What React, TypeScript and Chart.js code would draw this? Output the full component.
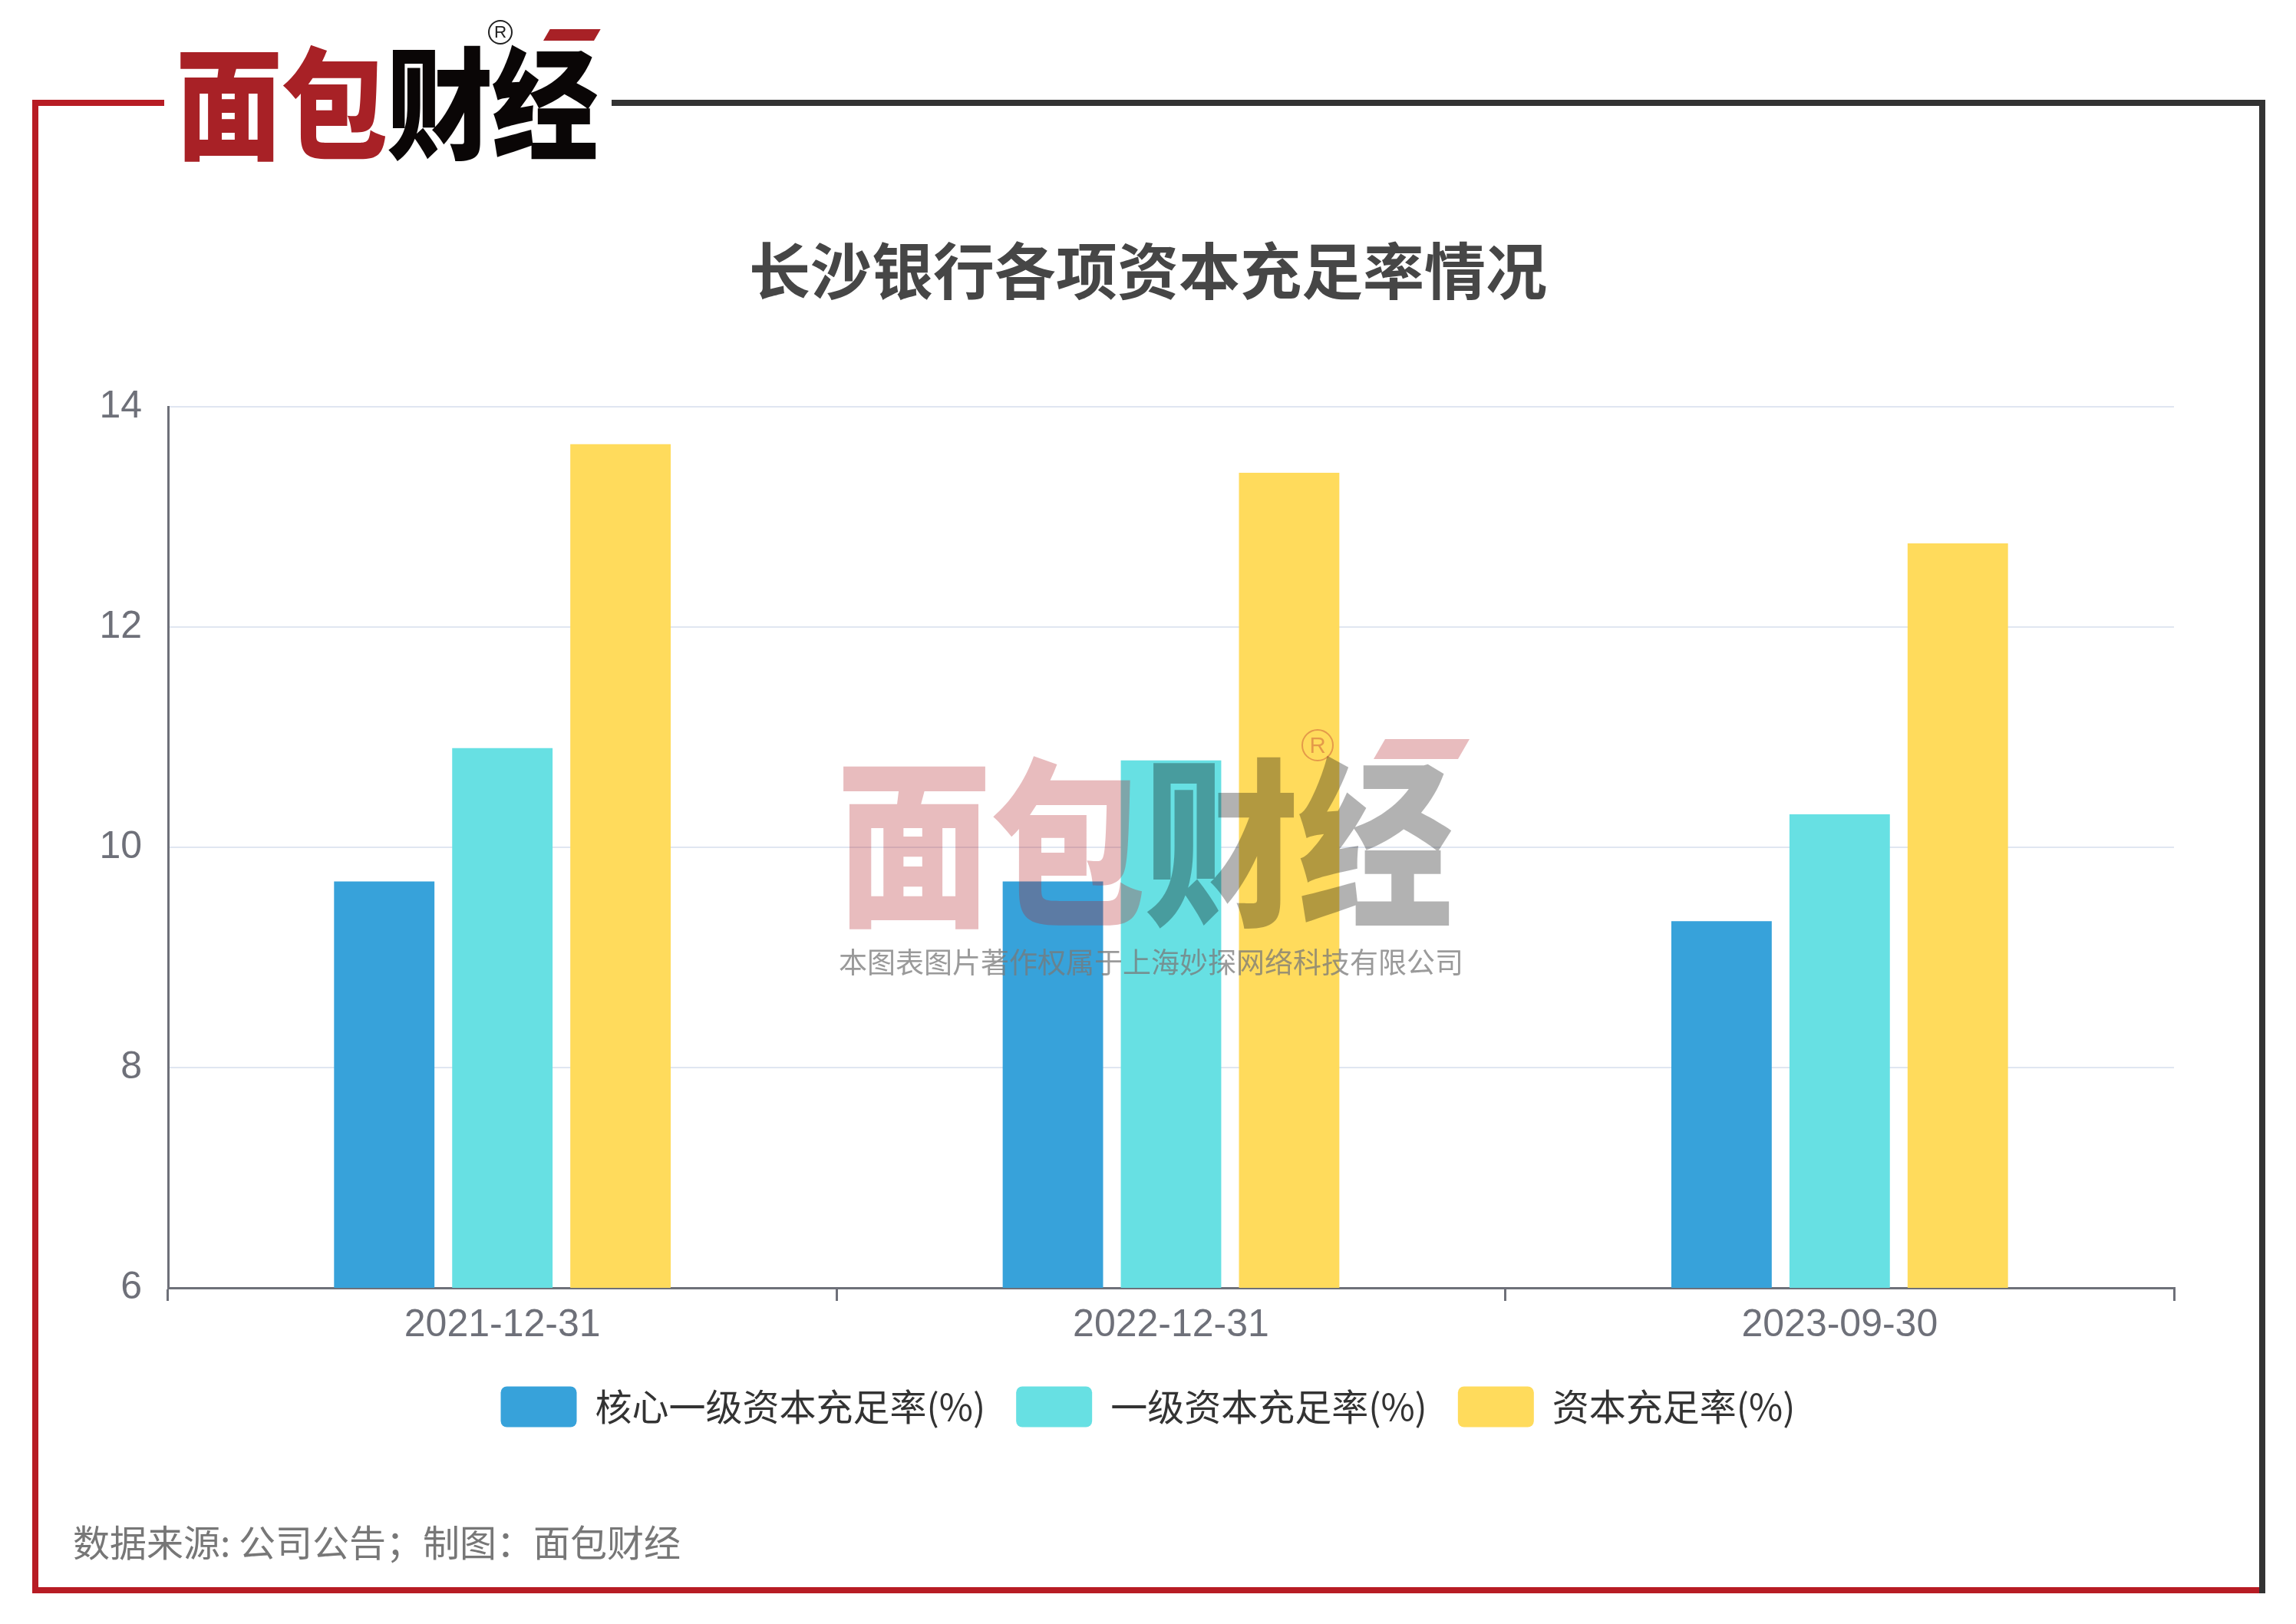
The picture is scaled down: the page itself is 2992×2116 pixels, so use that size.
import React, { useEffect, useRef } from 'react';
import { Chart, registerables } from 'chart.js';

Chart.register(...registerables);

const categories = ['2021-12-31', '2022-12-31', '2023-09-30'];
const coreTier1Ratio = [9.69, 9.69, 9.33];
const tier1Ratio = [10.9, 10.79, 10.3];
const capitalRatio = [13.66, 13.4, 12.76];
const seriesNames = ['核心一级资本充足率(%)', '一级资本充足率(%)', '资本充足率(%)'];
const seriesColors = ['#37A2DA', '#67E0E3', '#FFDB5C'];
const yMin = 6;
const yMax = 14;
const yStep = 2;
const titleText = '长沙银行各项资本充足率情况';
const sourceText = '数据来源: 公司公告；制图：面包财经';
const watermarkText = '本图表图片著作权属于上海妙探网络科技有限公司';
const logoRed = '面包';
const logoBlack = '财经';

const CJK = '"Noto Sans CJK SC", "Noto Sans", sans-serif';
const NUM = '"Liberation Sans", Arial, sans-serif';

function Logo(props: { left: number; top: number; size: number; scaleX: number; mode: string; reg: { x: number; y: number; s: number }; bar: { x: number; y: number; w: number; h: number } }) {
  const { left, top, size, scaleX, mode, reg, bar } = props;
  const wm = mode === 'wm';
  return (
    <>
      <div
        style={{
          position: 'absolute',
          left,
          top,
          fontFamily: CJK,
          fontWeight: 900,
          fontSize: size,
          lineHeight: 1,
          whiteSpace: 'nowrap',
          transform: `scaleX(${scaleX})`,
          transformOrigin: 'left top',
          letterSpacing: -2,
        }}
      >
        <span style={{ color: wm ? 'rgba(178,34,40,0.3)' : '#A82126' }}>{logoRed}</span>
        <span style={{ color: wm ? 'rgba(0,0,0,0.3)' : '#0A0606' }}>{logoBlack}</span>
      </div>
      <div
        style={{
          position: 'absolute',
          left: reg.x,
          top: reg.y,
          width: reg.s,
          height: reg.s,
          borderRadius: '50%',
          border: `2px solid ${wm ? 'rgba(178,34,40,0.35)' : '#222'}`,
          boxSizing: 'border-box',
          fontFamily: NUM,
          fontSize: reg.s * 0.7,
          lineHeight: `${reg.s - 4}px`,
          textAlign: 'center',
          color: wm ? 'rgba(178,34,40,0.35)' : '#222',
        }}
      >
        R
      </div>
      <div
        style={{
          position: 'absolute',
          left: bar.x,
          top: bar.y,
          width: bar.w,
          height: bar.h,
          background: wm ? 'rgba(178,34,40,0.3)' : '#A82126',
          transform: 'skewX(-30deg)',
          transformOrigin: 'left bottom',
        }}
      />
    </>
  );
}

export default function App() {
  const canvasRef = useRef<HTMLCanvasElement | null>(null);

  useEffect(() => {
    const canvas = canvasRef.current;
    if (!canvas) return;
    const chart = new Chart(canvas, {
      type: 'bar',
      data: {
        labels: categories,
        datasets: [
          { label: seriesNames[0], data: coreTier1Ratio, backgroundColor: seriesColors[0], borderWidth: 0, categoryPercentage: 0.53, barPercentage: 0.85 },
          { label: seriesNames[1], data: tier1Ratio, backgroundColor: seriesColors[1], borderWidth: 0, categoryPercentage: 0.53, barPercentage: 0.85 },
          { label: seriesNames[2], data: capitalRatio, backgroundColor: seriesColors[2], borderWidth: 0, categoryPercentage: 0.53, barPercentage: 0.85 },
        ],
      },
      options: {
        responsive: false,
        animation: false,
        devicePixelRatio: 1,
        layout: { padding: { left: 100, right: 100, top: 0, bottom: 246.5 } },
        plugins: {
          title: {
            display: true,
            text: titleText,
            color: '#464646',
            font: { family: CJK, size: 80, weight: 'bold', lineHeight: 1.2 },
            padding: { top: 305, bottom: 129 },
          },
          legend: {
            position: 'bottom',
            labels: {
              boxWidth: 99,
              boxHeight: 53,
              padding: 40,
              useBorderRadius: true,
              borderRadius: 8,
              color: '#333333',
              font: { family: CJK, size: 48 },
            },
          },
          tooltip: { enabled: false },
        },
        scales: {
          x: {
            grid: {
              display: true,
              drawOnChartArea: false,
              drawTicks: true,
              tickLength: 17,
              color: '#6E7079',
              lineWidth: 3,
              offset: true,
            },
            border: { display: true, color: '#6E7079', width: 3 },
            ticks: { color: '#6E7079', font: { family: NUM, size: 50 }, padding: 2 },
            afterFit: (s: any) => {
              s.height = 88.5;
            },
          },
          y: {
            min: yMin,
            max: yMax,
            grid: { color: '#E0E6F1', lineWidth: 2, drawTicks: false },
            border: { display: true, color: '#6E7079', width: 3 },
            ticks: { stepSize: yStep, color: '#6E7079', font: { family: NUM, size: 50 }, padding: 34 },
            afterFit: (s: any) => {
              s.width = 119;
            },
          },
          yPad: {
            type: 'linear',
            position: 'right',
            display: true,
            min: yMin,
            max: yMax,
            grid: { display: false, drawTicks: false },
            border: { display: false },
            ticks: { display: false },
            afterFit: (s: any) => {
              s.width = 59;
            },
          },
        },
      },
    });
    return () => chart.destroy();
  }, []);

  return (
    <div style={{ position: 'absolute', left: 0, top: 0, width: 2992, height: 2116, background: '#fff', overflow: 'hidden' }}>
      <canvas ref={canvasRef} width={2992} height={2116} style={{ position: 'absolute', left: 0, top: 0, width: 2992, height: 2116 }} />
      {/* frame */}
      <div style={{ position: 'absolute', left: 42, top: 130, width: 172, height: 8, background: '#B71C24' }} />
      <div style={{ position: 'absolute', left: 797, top: 130, width: 2155, height: 8, background: '#333333' }} />
      <div style={{ position: 'absolute', left: 42, top: 130, width: 8, height: 1946, background: '#B71C24' }} />
      <div style={{ position: 'absolute', left: 42, top: 2068, width: 2910, height: 8, background: '#B71C24' }} />
      <div style={{ position: 'absolute', left: 2944, top: 130, width: 8, height: 1946, background: '#333333' }} />
      {/* top logo */}
      <Logo left={229} top={48} size={158} scaleX={0.88} mode="top" reg={{ x: 636, y: 26, s: 32 }} bar={{ x: 708, y: 38, w: 66, h: 15 }} />
      {/* watermark */}
      <Logo left={1090} top={968} size={235} scaleX={0.86} mode="wm" reg={{ x: 1696, y: 950, s: 42 }} bar={{ x: 1790, y: 963, w: 110, h: 26 }} />
      <div
        style={{
          position: 'absolute',
          left: 1093,
          top: 1230,
          width: 810,
          fontFamily: CJK,
          fontSize: 37,
          lineHeight: '44px',
          color: 'rgba(120,120,120,0.75)',
          whiteSpace: 'nowrap',
          textAlign: 'center',
        }}
      >
        {watermarkText}
      </div>
      {/* source */}
      <div
        style={{
          position: 'absolute',
          left: 95,
          top: 1978,
          fontFamily: CJK,
          fontSize: 48,
          lineHeight: '58px',
          color: '#777777',
          whiteSpace: 'nowrap',
        }}
      >
        {sourceText}
      </div>
    </div>
  );
}
